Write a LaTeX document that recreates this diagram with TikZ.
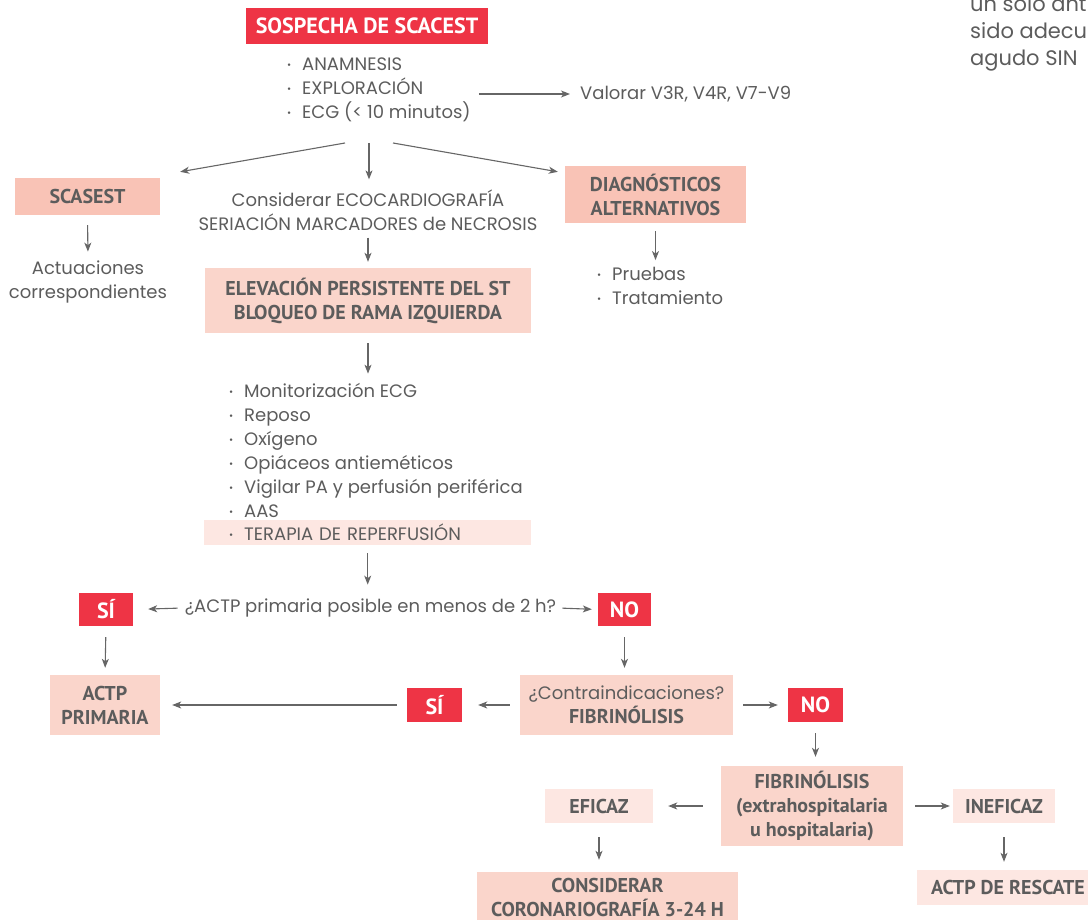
\documentclass[tikz,border=0pt]{standalone}
\usepackage{fontspec}
\setmainfont{Poppins}
\newfontfamily\boxfont{PT Sans}
\usepackage{tikz}
\usetikzlibrary{arrows.meta}
\usetikzlibrary{calc}
\usetikzlibrary{positioning}

\definecolor{scared}{HTML}{EE3445}
\definecolor{scasalmon}{HTML}{F9C3B6}
\definecolor{scapink}{HTML}{FAD5CB}
\definecolor{scapale}{HTML}{FDE7E2}
\definecolor{scatext}{HTML}{5C5C5C}
\definecolor{scaarrow}{HTML}{666666}

\newcommand{\bul}{\makebox[15pt][l]{\raisebox{2pt}{\fontsize{10}{10}\selectfont •}}}

\tikzset{
  flowtext/.style={text=scatext, font=\fontsize{18}{24}\selectfont, inner sep=2pt, align=center},
  listtext/.style={flowtext, align=left, anchor=west},
  boxlabel/.style={text=scatext, font=\boxfont\bfseries\fontsize{20}{24}\selectfont, align=center, inner sep=0pt},
  redbox/.style={boxlabel, fill=scared, text=white, font=\boxfont\bfseries\fontsize{22}{24}\selectfont},
  salmonbox/.style={boxlabel, fill=scasalmon},
  pinkbox/.style={boxlabel, fill=scapink},
  palebox/.style={boxlabel, fill=scapale},
  flowarrow/.style={draw=scaarrow, line width=1.1pt, -{Stealth[length=9pt,width=7pt,inset=2.5pt]}, shorten <=10pt, shorten >=7pt},
}

\begin{document}
\begin{tikzpicture}[x=1pt, y=-1pt]
        \newcommand{\flowmidx}{369}
        \newcommand{\forky}{143}
        \useasboundingbox (0,0) rectangle (1088,920);
        \clip (0,0) rectangle (1088,920);
        % text of the next column, cut by the page
        \node[anchor=north west, text=scatext, font=\fontsize{21}{27}\selectfont, align=left, inner sep=0pt] (margen) at (970,-4) {un solo ant\\sido adecu\\agudo SIN};
        % top of the chart
        \node[redbox, minimum width=242pt, minimum height=36pt] (sospecha) at (367,26) {SOSPECHA DE SCACEST};
        \node[listtext] (exam) at (285,90) {\bul ANAMNESIS\\\bul EXPLORACIÓN\\\bul ECG (< 10 minutos)};
        \node[flowtext, anchor=west] (valorar) at (578,94) {Valorar V3R, V4R, V7-V9};
        \coordinate (fork) at (\flowmidx,\forky);
        \node[salmonbox, minimum width=145pt, minimum height=37pt] (scasest) at (87.5,196.5) {SCASEST};
        \node[flowtext] (consid) at (368,210) {Considerar ECOCARDIOGRAFÍA\\SERIACIÓN MARCADORES de NECROSIS};
        \node[salmonbox, minimum width=181pt, minimum height=57pt] (diag) at (655.5,194.5) {DIAGNÓSTICOS\\ALTERNATIVOS};
        \node[flowtext] (actu) at (88,282) {Actuaciones\\correspondientes};
        \node[pinkbox, minimum width=326pt, minimum height=65pt] (elev) at (368,300.5) {ELEVACIÓN PERSISTENTE DEL ST\\BLOQUEO DE RAMA IZQUIERDA};
        \node[listtext] (pruebas) at (595,286) {\bul Pruebas\\\bul Tratamiento};
        \node[listtext] (medidas) at (227,450) {\bul Monitorización ECG\\\bul Reposo\\\bul Oxígeno\\\bul Opiáceos antieméticos\\\bul Vigilar PA y perfusión periférica\\\bul AAS};
        \node[flowtext, fill=scapale, anchor=west, align=left, text width=327pt, inner xsep=0pt, inner ysep=0pt, minimum height=25pt] (terapia) at (204,532.5) {\hspace*{25pt}\bul TERAPIA DE REPERFUSIÓN};
        % reperfusion choice
        \node[flowtext] (pregunta) at (370.5,608) {¿ACTP primaria posible en menos de 2 h?};
        \node[redbox, minimum width=54pt, minimum height=33pt] (si1) at (106,609.5) {SÍ};
        \node[redbox, minimum width=53pt, minimum height=33pt] (no1) at (624.5,609.5) {NO};
        \node[pinkbox, minimum width=110pt, minimum height=60pt] (actp) at (105,705) {ACTP\\PRIMARIA};
        \node[pinkbox, minimum width=213pt, minimum height=60pt] (contra) at (626.5,705) {{\rmfamily\mdseries\fontsize{18}{24}\selectfont ¿Contraindicaciones?}\\FIBRINÓLISIS};
        \node[redbox, minimum width=55pt, minimum height=34pt] (si2) at (434.5,705) {SÍ};
        \node[redbox, minimum width=55pt, minimum height=34pt] (no2) at (815.5,705) {NO};
        \node[pinkbox, minimum width=182pt, minimum height=80pt] (fibri) at (812,806) {FIBRINÓLISIS\\(extrahospitalaria\\u hospitalaria)};
        \node[palebox, minimum width=108pt, minimum height=34pt] (eficaz) at (599,806) {EFICAZ};
        \node[palebox, minimum width=102pt, minimum height=34pt] (ineficaz) at (1004,806) {INEFICAZ};
        \node[pinkbox, minimum width=261pt, minimum height=50pt] (coronario) at (607.5,897) {CONSIDERAR\\CORONARIOGRAFÍA 3-24 H};
        \node[palebox, minimum width=182pt, minimum height=35pt] (rescate) at (1008,887.5) {ACTP DE RESCATE};
        % arrows
        \draw[flowarrow, shorten <=6pt, shorten >=8pt] (exam.east |- valorar.west) -- (valorar.west);
        \draw[flowarrow, shorten <=0pt, shorten >=0pt] ([xshift=-24pt]fork) -- ([shift={(20pt,6pt)}]scasest.north east);
        \draw[flowarrow, shorten <=0pt, shorten >=8pt] (fork) -- (fork |- consid.north);
        \draw[flowarrow, shorten <=0pt, shorten >=0pt] ([xshift=24pt]fork) -- ([shift={(-7pt,-6pt)}]diag.north west);
        \draw[flowarrow] (scasest.south) -- (actu.north);
        \draw[flowarrow, shorten <=5pt, shorten >=6pt] (consid.south) -- (elev.north);
        \draw[flowarrow, shorten <=8pt, shorten >=5pt] (diag.south) -- (diag.south |- pruebas.north);
        \draw[flowarrow] (elev.south) -- (elev.south |- medidas.north);
        \draw[flowarrow, shorten <=8pt, shorten >=12pt] (terapia.south) -- (terapia.south |- pregunta.north);
        \draw[flowarrow, shorten <=5pt, shorten >=15pt] (pregunta.west) -- (si1.east);
        \draw[flowarrow, shorten <=4pt, shorten >=6pt] (pregunta.east) -- (no1.west);
        \draw[flowarrow, shorten <=11pt, shorten >=7pt] (si1.south) -- (actp.north);
        \draw[flowarrow, shorten <=11pt, shorten >=7pt] (no1.south) -- (no1.south |- contra.north);
        \draw[flowarrow, shorten <=10pt, shorten >=16pt] (contra.west) -- (si2.east);
        \draw[flowarrow, shorten <=10pt, shorten >=12pt] (si2.west) -- (actp.east);
        \draw[flowarrow, shorten <=10pt, shorten >=10pt] (contra.east) -- (no2.west);
        \draw[flowarrow, shorten <=11pt, shorten >=9pt] (no2.south) -- (no2.south |- fibri.north);
        \draw[flowarrow, shorten <=18pt, shorten >=15pt] (fibri.west) -- (eficaz.east);
        \draw[flowarrow, shorten <=12pt, shorten >=3pt] (fibri.east) -- (ineficaz.west);
        \draw[flowarrow, shorten <=14pt, shorten >=12pt] (eficaz.south) -- (coronario.north -| eficaz.south);
        \draw[flowarrow, shorten <=14pt, shorten >=8pt] (ineficaz.south) -- (ineficaz.south |- rescate.north);
\end{tikzpicture}
\end{document}
